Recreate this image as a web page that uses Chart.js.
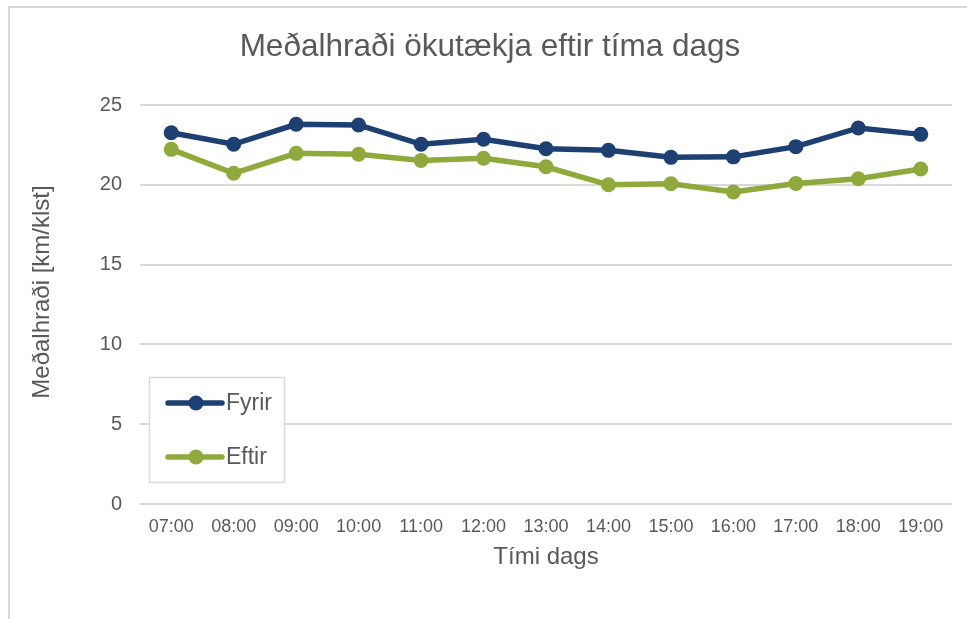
<!DOCTYPE html>
<html>
<head>
<meta charset="utf-8">
<script src="https://cdn.jsdelivr.net/npm/chart.js@4"></script>
<style>
  html, body { margin: 0; padding: 0; background: #fff; }
  #wrap { width: 967px; height: 619px; position: relative; }
</style>
</head>
<body>
<div id="wrap"><canvas id="myChart" width="967" height="619"></canvas></div>
<script>
// data
const hours = ['07:00', '08:00', '09:00', '10:00', '11:00', '12:00', '13:00',
               '14:00', '15:00', '16:00', '17:00', '18:00', '19:00'];
const fyrir = [23.26, 22.54, 23.79, 23.75, 22.54, 22.85, 22.26, 22.16, 21.72, 21.75, 22.39, 23.56, 23.16];
const eftir = [22.22, 20.72, 21.97, 21.91, 21.53, 21.66, 21.13, 20.0, 20.07, 19.55, 20.08, 20.38, 20.99];
const yTicks = [0, 5, 10, 15, 20, 25];

const textColor = '#595959';
const gridColor = '#d9d9d9';
const navy = '#1d3f72';
const green = '#8fa93d';
const fontFamily = '"Liberation Sans", Arial, sans-serif';

// frame around the whole chart, white background, title and y-axis title
const framePlugin = {
  id: 'frame',
  beforeDraw(chart) {
    const ctx = chart.ctx;
    ctx.save();
    ctx.fillStyle = '#fff';
    ctx.fillRect(0, 0, chart.width, chart.height);
    ctx.strokeStyle = gridColor;
    ctx.lineWidth = 2;
    ctx.beginPath();
    ctx.moveTo(9, chart.height + 5);
    ctx.lineTo(9, 7);
    ctx.lineTo(chart.width + 5, 7);
    ctx.stroke();
    ctx.fillStyle = textColor;
    ctx.font = '31.5px ' + fontFamily;
    ctx.textAlign = 'center';
    ctx.textBaseline = 'middle';
    ctx.fillText('Meðalhraði ökutækja eftir tíma dags', 490, 47);
    // y axis title (sits a bit above the plot's middle in the original)
    ctx.translate(42, 292);
    ctx.rotate(-Math.PI / 2);
    ctx.font = '24px ' + fontFamily;
    ctx.fillText('Meðalhraði [km/klst]', 0, 0);
    ctx.restore();
  }
};

// legend box drawn inside the plot area
const boxLegend = {
  id: 'boxLegend',
  afterDatasetsDraw(chart) {
    const ctx = chart.ctx;
    ctx.save();
    ctx.fillStyle = '#fff';
    ctx.fillRect(149, 377, 136, 106);
    ctx.strokeStyle = gridColor;
    ctx.lineWidth = 1.5;
    ctx.strokeRect(149.5, 377.5, 135, 105);
    ctx.font = '23px ' + fontFamily;
    ctx.textBaseline = 'middle';
    chart.data.datasets.forEach((ds, i) => {
      const y = 403 + i * 54;
      ctx.strokeStyle = ds.borderColor;
      ctx.lineWidth = 5.5;
      ctx.lineCap = 'round';
      ctx.beginPath();
      ctx.moveTo(168, y);
      ctx.lineTo(222, y);
      ctx.stroke();
      ctx.fillStyle = ds.backgroundColor;
      ctx.beginPath();
      ctx.arc(196, y, 7.5, 0, Math.PI * 2);
      ctx.fill();
      ctx.fillStyle = textColor;
      ctx.fillText(ds.label, 226, y + 1);
    });
    ctx.restore();
  }
};

const ctx = document.getElementById('myChart').getContext('2d');
const myChart = new Chart(ctx, {
  type: 'line',
  data: {
    labels: hours,
    datasets: [{
      label: 'Fyrir',
      data: fyrir,
      borderColor: navy,
      backgroundColor: navy,
      borderWidth: 5.5,
      pointRadius: 7.5,
      pointBorderWidth: 0,
      tension: 0
    }, {
      label: 'Eftir',
      data: eftir,
      borderColor: green,
      backgroundColor: green,
      borderWidth: 5.5,
      pointRadius: 7.5,
      pointBorderWidth: 0,
      tension: 0
    }]
  },
  options: {
    responsive: false,
    animation: false,
    layout: { padding: { left: 0, right: 15, top: 105, bottom: 35 } },
    plugins: {
      legend: { display: false },
      tooltip: { enabled: false },
      title: { display: false }
    },
    scales: {
      x: {
        offset: true,
        grid: { display: false },
        border: { display: false },
        ticks: {
          color: textColor,
          padding: 4,
          maxRotation: 0,
          font: { family: fontFamily, size: 18 }
        },
        title: {
          display: true,
          text: 'Tími dags',
          color: textColor,
          font: { family: fontFamily, size: 24 },
          padding: { top: 0, bottom: 12 }
        },
        afterFit(scale) { scale.height = 80; }
      },
      y: {
        min: 0,
        max: 25,
        afterBuildTicks(scale) { scale.ticks = yTicks.map(v => ({ value: v })); },
        grid: { color: gridColor, lineWidth: 2, drawTicks: false },
        border: { display: false },
        ticks: {
          color: textColor,
          padding: 18,
          font: { family: fontFamily, size: 20 }
        },
        afterFit(scale) { scale.width = 140; }
      }
    }
  },
  plugins: [framePlugin, boxLegend]
});
</script>
</body>
</html>
